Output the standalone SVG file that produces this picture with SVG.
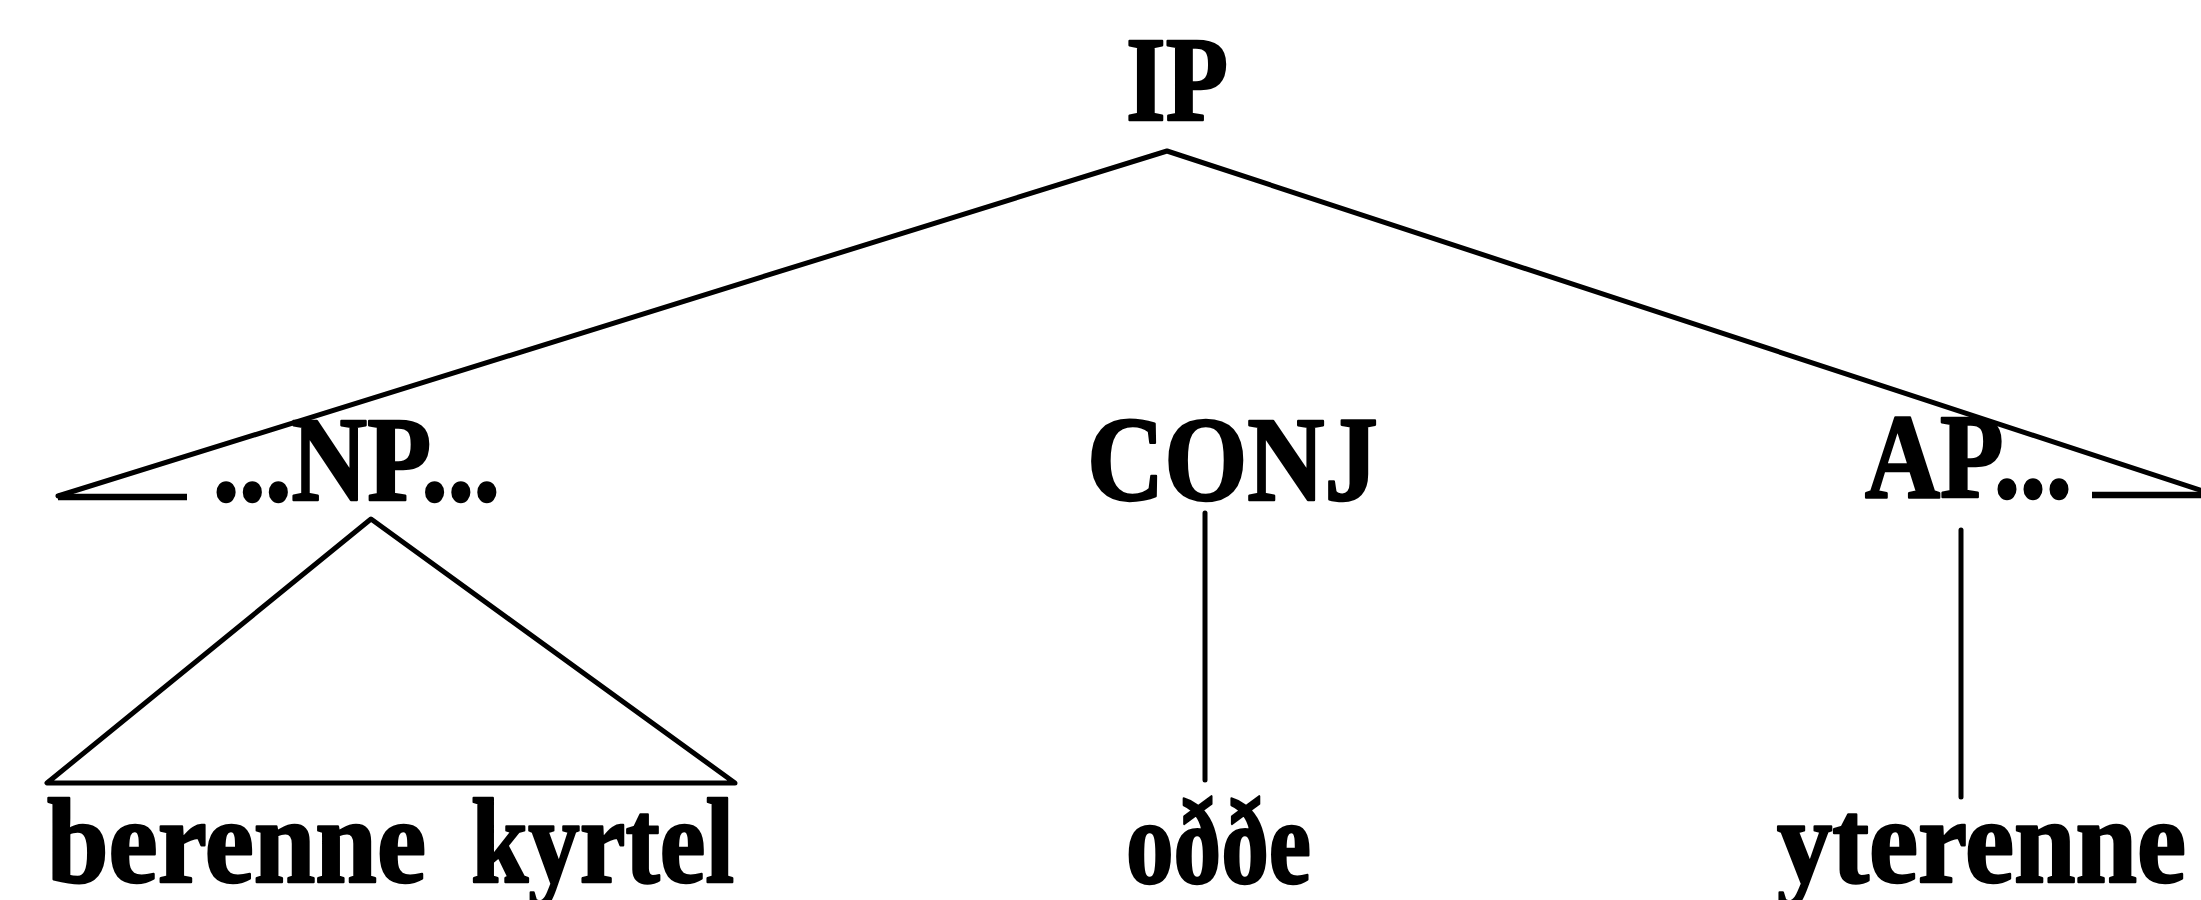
<svg xmlns="http://www.w3.org/2000/svg" width="2201" height="900" viewBox="0 0 2201 900">
  <style>
    .lbl { font-family: "Liberation Serif", "Times New Roman", serif; font-weight: bold; font-size: 120px; fill: #000; stroke: #000; stroke-width: 2.5; stroke-linejoin: round; }
    .edge { stroke: #000; stroke-width: 5; fill: none; stroke-linecap: round; stroke-linejoin: round; }
    .tick { stroke: #000; stroke-width: 6.5; fill: none; stroke-linecap: butt; }
  </style>
  <rect width="2201" height="900" fill="#fff"/>

  <!-- tree edges -->
  <g id="connectors">
    <polyline class="edge" points="58,496 1167,151 2203,491"/>
    <line class="tick" x1="58" y1="497" x2="187" y2="497"/>
    <line class="tick" x1="2092" y1="495" x2="2201" y2="495"/>
    <polygon class="edge" points="371,519 47,783 735,783"/>
    <line class="edge" x1="1205" y1="513" x2="1205" y2="780"/>
    <line class="edge" x1="1961" y1="530" x2="1961" y2="797"/>
  </g>

  <g id="node-ip">
    <text class="lbl" x="1126" y="120" textLength="102" lengthAdjust="spacingAndGlyphs">IP</text>
  </g>
  <g id="node-np">
    <text class="lbl" x="213" y="500" textLength="287" lengthAdjust="spacingAndGlyphs">...NP...</text>
  </g>
  <g id="node-conj">
    <text class="lbl" x="1087" y="500" textLength="291" lengthAdjust="spacingAndGlyphs">CONJ</text>
  </g>
  <g id="node-ap">
    <text class="lbl" x="1865" y="497" textLength="207" lengthAdjust="spacingAndGlyphs">AP...</text>
  </g>
  <g id="leaf-np">
    <text class="lbl" y="882"><tspan x="47" textLength="379" lengthAdjust="spacingAndGlyphs">berenne</tspan><tspan x="471" textLength="263" lengthAdjust="spacingAndGlyphs">kyrtel</tspan></text>
  </g>
  <g id="leaf-conj">
    <text class="lbl" x="1126" y="883" textLength="185" lengthAdjust="spacingAndGlyphs">oððe</text>
  </g>
  <g id="leaf-ap">
    <text class="lbl" x="1777" y="882" textLength="409" lengthAdjust="spacingAndGlyphs">yterenne</text>
  </g>
</svg>
